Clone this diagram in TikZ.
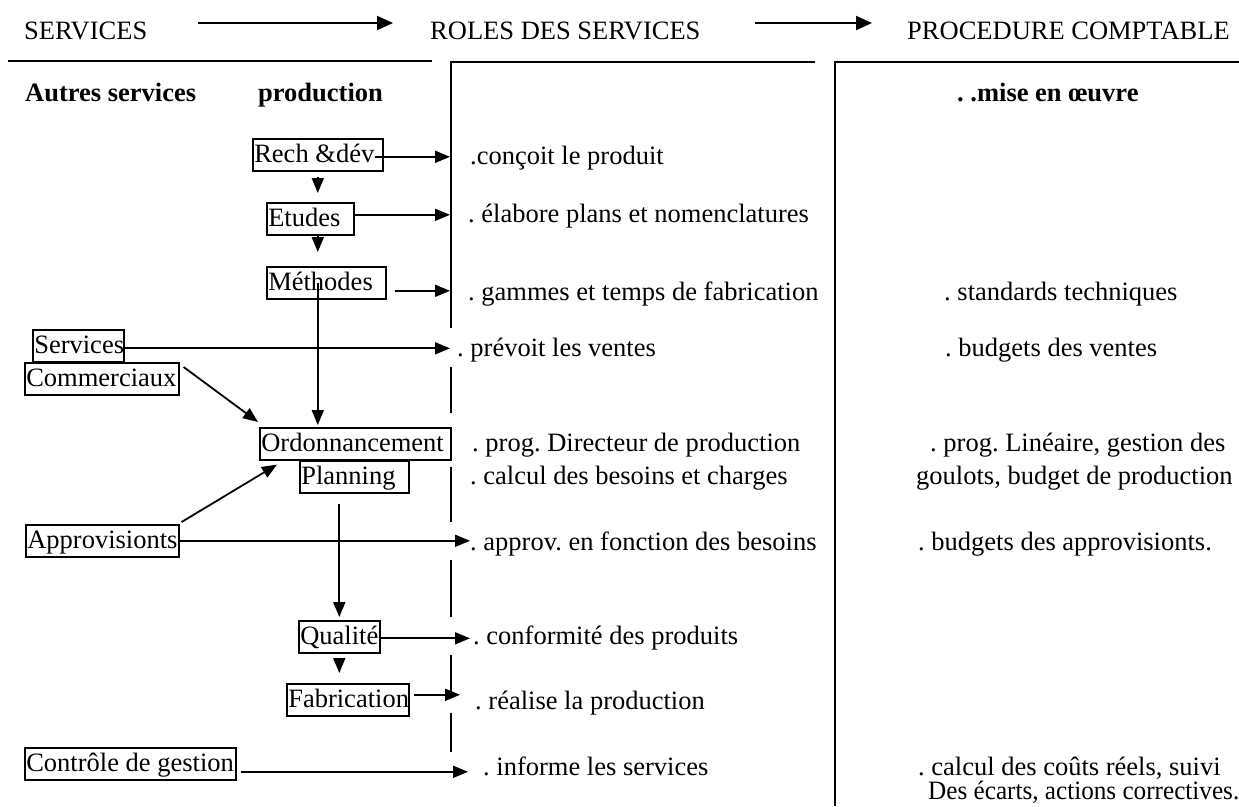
\documentclass[tikz,border=0pt]{standalone}
\usepackage{fontspec}
\setmainfont{Liberation Serif}
\usetikzlibrary{arrows.meta}
\newcommand\bx[2]{\makebox[#1][l]{#2}}
\begin{document}
\frenchspacing
\begin{tikzpicture}[x=1pt,y=-1pt,
  every node/.style={font=\fontsize{26.5}{32}\selectfont\frenchspacing, inner sep=0pt},
  txt/.style={anchor=base west},
  bold/.style={anchor=base west, font=\fontsize{26.5}{32}\selectfont\bfseries\frenchspacing},
  box/.style={draw, line width=1.6pt, anchor=north west, inner xsep=1.5pt, inner ysep=0pt, text height=24pt, text depth=8pt},
  rule/.style={line width=2pt},
  arr/.style={line width=1.8pt, -{Triangle[length=15pt,width=12pt]}},
  harr/.style={line width=2pt, -{Triangle[length=16pt,width=14pt]}}]
\useasboundingbox (0,0) rectangle (1239,806);

% header
\node[txt] (hs) at (24,39) {SERVICES};
\node[txt] (hr) at (430,39) {ROLES DES SERVICES};
\node[txt] (hp) at (907,39) {PROCEDURE COMPTABLE};
\draw[harr] ([xshift=51pt,yshift=16pt]hs.base east) -- ([xshift=-37pt,yshift=16pt]hr.base west);
\draw[harr] ([xshift=54pt,yshift=16pt]hr.base east) -- ([xshift=-35pt,yshift=16pt]hp.base west);

% rules
\draw[rule] (8,61) -- (432,61);
\draw[rule] (815,62) -- (451,62) -- (451,328);
\draw[rule] (451,367) -- (451,413);
\draw[rule] (451,467) -- (451,522);
\draw[rule] (451,560) -- (451,617);
\draw[rule] (451,655) -- (451,697);
\draw[rule] (451,713) -- (451,752);
\draw[rule] (1239,62) -- (835,62) -- (835,806);

% bold row
\node[bold] (b1) at (25,101) {Autres services};
\node[bold] (b2) at (258,101) {production};
\node[bold] (b3) at (957,101) {. .mise en œuvre};

% middle column
\node[txt] (m1) at (470,164) {.conçoit le produit};
\node[txt] (m2) at (468,222) {. élabore plans et nomenclatures};
\node[txt] (m3) at (468,300) {. gammes et temps de fabrication};
\node[txt] (m4) at (457,356) {. prévoit les ventes};
\node[txt] (m5) at (472,451) {. prog. Directeur de production};
\node[txt] (m6) at (470,484) {. calcul des besoins et charges};
\node[txt] (m7) at (470,550) {. approv. en fonction des besoins};
\node[txt] (m8) at (473,644) {. conformité des produits};
\node[txt] (m9) at (475,709) {. réalise la production};
\node[txt] (m10) at (483,775) {. informe les services};

% right column
\node[txt] (r1) at (944,300) {. standards techniques};
\node[txt] (r2) at (945,356) {. budgets des ventes};
\node[txt] (r3) at (930,451) {. prog. Linéaire, gestion des};
\node[txt] (r4) at (916,484) {goulots, budget de production};
\node[txt] (r5) at (918,550) {. budgets des approvisionts.};
\node[txt] (r6) at (918,775) {. calcul des coûts réels, suivi};
\node[txt] (r7) at (928,799) {\scalebox{0.95}[1]{Des écarts, actions correctives.}};

% boxes
\node[box] (rech) at (252,138) {\bx{127pt}{Rech \&dév}};
\node[box] (etudes) at (266,202) {\bx{84pt}{Etudes}};
\node[box] (meth) at (266,266) {\bx{116pt}{Méthodes}};
\node[box] (serv) at (32,329) {\bx{88pt}{Services}};
\node[box] (comm) at (24,362) {\bx{151pt}{Commerciaux}};
\node[box] (ordo) at (259,427) {\bx{188pt}{Ordonnancement}};
\node[box] (plan) at (299,460) {\bx{106pt}{Planning}};
\node[box] (appro) at (25,524) {\bx{150pt}{Approvisionts}};
\node[box] (qual) at (298,620) {\bx{78pt}{Qualité}};
\node[box] (fab) at (286,683) {\bx{119pt}{Fabrication}};
\node[box] (ctrl) at (24,747) {\bx{208pt}{Contrôle de gestion}};

% tip columns
\coordinate (mid) at (450,0);
\coordinate (mid2) at (470,0);
\coordinate (mid3) at (460,0);
\coordinate (mid4) at (468,0);

% connectors
\draw[arr] ([xshift=-9pt,yshift=-2pt]rech.east) -- ([yshift=-2pt]rech.east -| mid);
\draw[arr,shorten <=5pt,shorten >=9pt] (rech.south) -- (rech.south |- etudes.north);
\draw[arr] ([yshift=4pt]etudes.east) -- ([yshift=4pt]etudes.east -| mid);
\draw[arr,shorten >=14pt] (etudes.south -| rech.south) -- (meth.north -| rech.south);
\draw[arr,shorten <=8pt] ([yshift=-8pt]meth.east) -- ([yshift=-8pt]meth.east -| mid);
\draw[arr,shorten >=2pt] (meth.center -| rech.south) -- (ordo.north -| rech.south);
\draw[arr] ([yshift=-2.5pt]serv.east) -- ([yshift=-2.5pt]serv.east -| mid);
\draw[arr] ([xshift=4pt,yshift=-5pt]comm.north east) -- ([xshift=-1pt,yshift=5pt]ordo.north west);
\draw[arr] ([xshift=2pt,yshift=2pt]appro.north east) -- ([xshift=18pt,yshift=-4pt]ordo.south west);
\draw[arr] (appro.east) -- (appro.east -| mid2);
\draw[arr,shorten <=10pt,shorten >=3pt] (plan.south -| qual.north) -- (qual.north);
\draw[arr] ([xshift=-2pt,yshift=-1.5pt]qual.east) -- ([yshift=-1.5pt]qual.east -| mid2);
\draw[arr,shorten <=4pt,shorten >=10pt] (qual.south) -- (qual.south |- fab.north);
\draw[arr,shorten <=4pt] ([yshift=5pt]fab.east) -- ([yshift=5pt]fab.east -| mid3);
\draw[arr,shorten <=4pt] ([yshift=-8pt]ctrl.east) -- ([yshift=-8pt]ctrl.east -| mid4);
\end{tikzpicture}
\end{document}
